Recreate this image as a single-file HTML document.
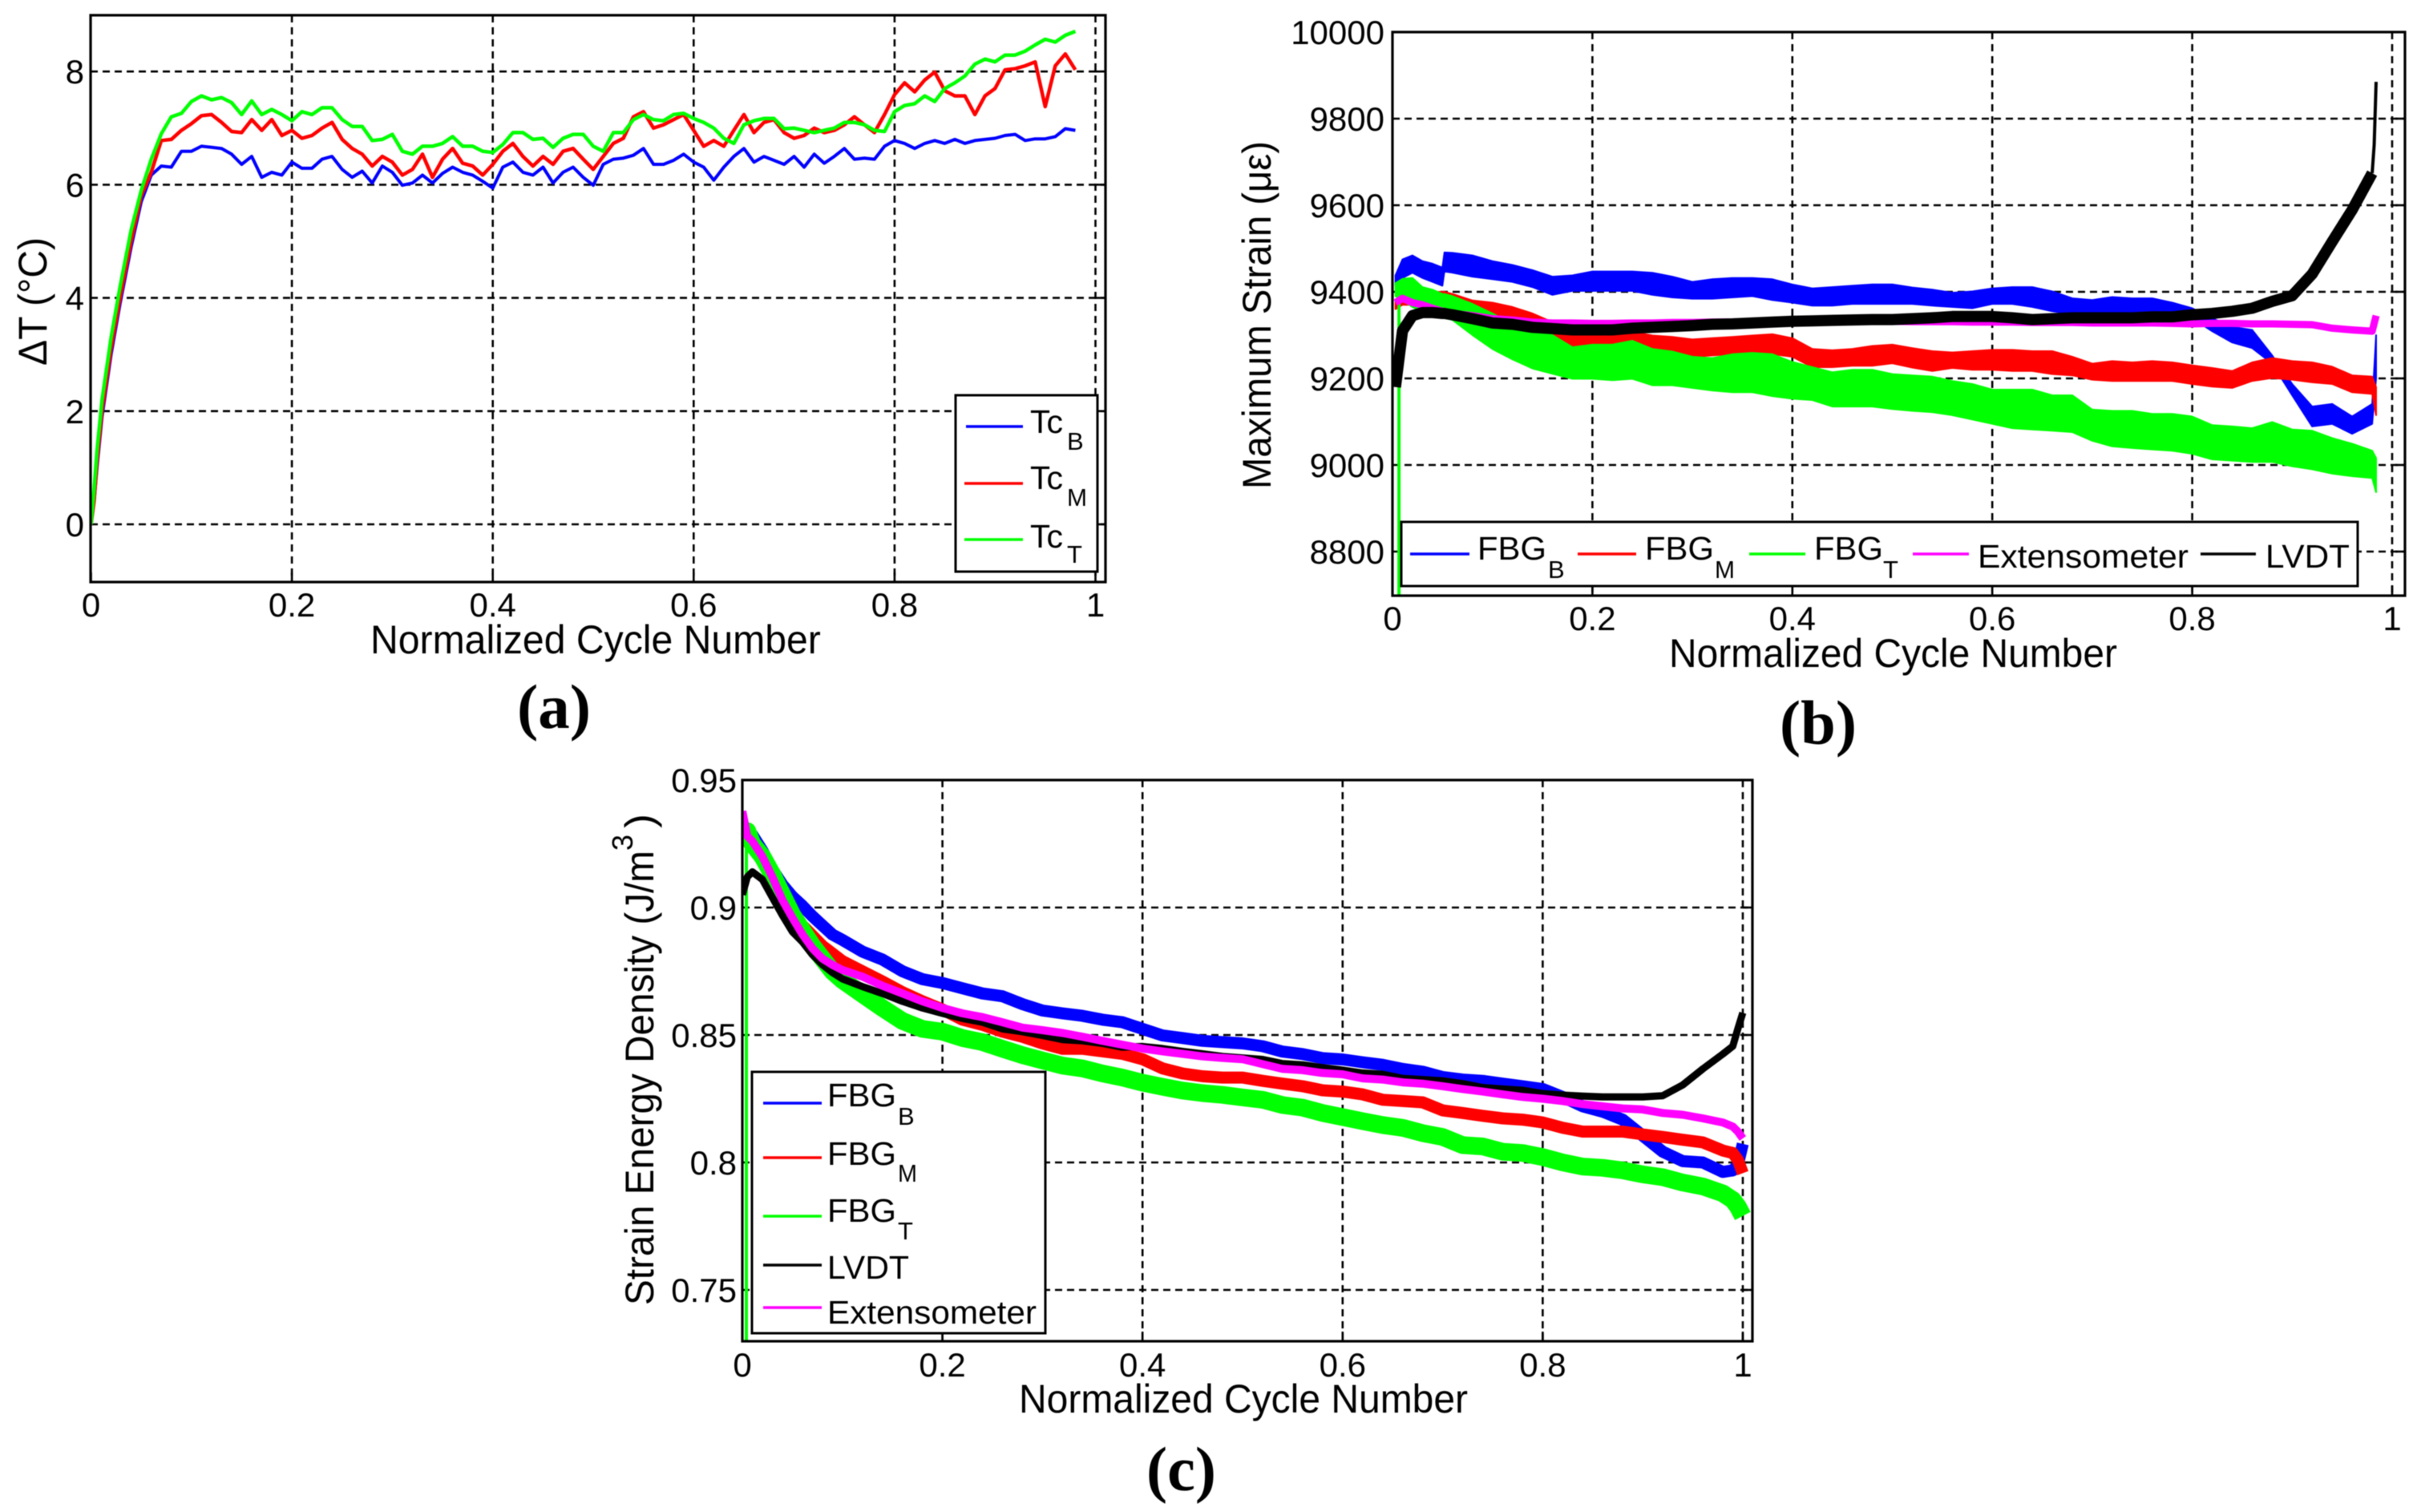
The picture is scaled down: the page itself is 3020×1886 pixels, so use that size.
<!DOCTYPE html>
<html lang="en">
<head>
<meta charset="utf-8">
<title>Thermal, strain and strain energy versus normalized cycle number</title>
<style>
html,body{margin:0;padding:0;background:#fff;}
svg{display:block;filter:blur(0.6px);}
text{font-family:"Liberation Sans",sans-serif;fill:#000;}
.cap{font-family:"Liberation Serif",serif;font-weight:bold;font-size:78px;}
.leg{font-size:41px;}
.sub{font-size:31px;}
.axl{font-size:50px;}
</style>
</head>
<body>
<svg xmlns="http://www.w3.org/2000/svg" width="3020" height="1886" viewBox="0 0 3020 1886">
<defs>
<clipPath id="clip-a"><rect x="113" y="19" width="1266" height="707"/></clipPath>
<clipPath id="clip-b"><rect x="1737" y="40" width="1263" height="703"/></clipPath>
<clipPath id="clip-c"><rect x="926" y="973" width="1260" height="700"/></clipPath>
</defs>

<g id="panel-a"></g>
<g id="panel-b"></g>
<g id="panel-c"></g>

<!-- Panel a labels and legend -->
<text class="axl" transform="translate(462,815) scale(0.963,1)">Normalized Cycle Number</text>
<text class="axl" transform="translate(58,456) rotate(-90)" textLength="160" lengthAdjust="spacingAndGlyphs">ΔT (°C)</text>
<g>
<rect x="1192" y="493" width="177" height="220" fill="#fff" stroke="#000" stroke-width="3"/>
<line x1="1205" x2="1276" y1="532" y2="532" stroke="#0000ff" stroke-width="3.5"/>
<text class="leg" x="1285" y="540">Tc</text><text class="sub" x="1331" y="561">B</text>
<line x1="1203" x2="1276" y1="603" y2="603" stroke="#ff0000" stroke-width="3.5"/>
<text class="leg" x="1285" y="610">Tc</text><text class="sub" x="1331" y="631" textLength="25" lengthAdjust="spacingAndGlyphs">M</text>
<line x1="1203" x2="1276" y1="673" y2="673" stroke="#00ff00" stroke-width="3.5"/>
<text class="leg" x="1285" y="683">Tc</text><text class="sub" x="1331" y="702">T</text>
</g>
<text class="cap" x="645" y="908" textLength="92" lengthAdjust="spacingAndGlyphs">(a)</text>

<!-- Panel b labels and legend -->
<text class="axl" transform="translate(2082,832) scale(0.958,1)">Normalized Cycle Number</text>
<text class="axl" transform="translate(1585,610) rotate(-90)" textLength="434" lengthAdjust="spacingAndGlyphs">Maximum Strain (με)</text>
<g>
<rect x="1748" y="651" width="1193" height="80" fill="#fff" stroke="#000" stroke-width="3"/>
<line x1="1759" x2="1833" y1="691" y2="691" stroke="#0000ff" stroke-width="3.5"/>
<text class="leg" x="1843" y="698" textLength="86" lengthAdjust="spacingAndGlyphs">FBG</text><text class="sub" x="1931" y="721">B</text>
<line x1="1968" x2="2041" y1="691" y2="691" stroke="#ff0000" stroke-width="3.5"/>
<text class="leg" x="2052" y="698" textLength="86" lengthAdjust="spacingAndGlyphs">FBG</text><text class="sub" x="2139" y="721" textLength="25" lengthAdjust="spacingAndGlyphs">M</text>
<line x1="2182" x2="2252" y1="691" y2="691" stroke="#00ff00" stroke-width="3.5"/>
<text class="leg" x="2263" y="698" textLength="86" lengthAdjust="spacingAndGlyphs">FBG</text><text class="sub" x="2349" y="721">T</text>
<line x1="2386" x2="2456" y1="691" y2="691" stroke="#ff00ff" stroke-width="3.5"/>
<text class="leg" x="2467" y="708" textLength="263" lengthAdjust="spacingAndGlyphs">Extensometer</text>
<line x1="2745" x2="2814" y1="691" y2="691" stroke="#000" stroke-width="3.5"/>
<text class="leg" x="2826" y="708" textLength="105" lengthAdjust="spacingAndGlyphs">LVDT</text>
</g>
<text class="cap" x="2220" y="928" textLength="96" lengthAdjust="spacingAndGlyphs">(b)</text>

<!-- Panel c labels and legend -->
<text class="axl" transform="translate(1271,1762) scale(0.96,1)">Normalized Cycle Number</text>
<g>
<text class="axl" transform="translate(815,1628) rotate(-90)" textLength="567" lengthAdjust="spacingAndGlyphs">Strain Energy Density (J/m</text>
<text transform="translate(789,1061) rotate(-90)" font-size="36">3</text>
<text class="axl" transform="translate(815,1033) rotate(-90)" textLength="18" lengthAdjust="spacingAndGlyphs">)</text>
</g>
<g>
<rect x="938" y="1337" width="366" height="326" fill="#fff" stroke="#000" stroke-width="3"/>
<line x1="952" x2="1025" y1="1376" y2="1376" stroke="#0000ff" stroke-width="3.5"/>
<text class="leg" x="1032" y="1380" textLength="86" lengthAdjust="spacingAndGlyphs">FBG</text><text class="sub" x="1120" y="1403">B</text>
<line x1="952" x2="1025" y1="1444" y2="1444" stroke="#ff0000" stroke-width="3.5"/>
<text class="leg" x="1032" y="1453" textLength="86" lengthAdjust="spacingAndGlyphs">FBG</text><text class="sub" x="1120" y="1474" textLength="24" lengthAdjust="spacingAndGlyphs">M</text>
<line x1="952" x2="1025" y1="1517" y2="1517" stroke="#00ff00" stroke-width="3.5"/>
<text class="leg" x="1032" y="1524" textLength="86" lengthAdjust="spacingAndGlyphs">FBG</text><text class="sub" x="1120" y="1546">T</text>
<line x1="952" x2="1025" y1="1578" y2="1578" stroke="#000" stroke-width="3.5"/>
<text class="leg" x="1032" y="1595" textLength="102" lengthAdjust="spacingAndGlyphs">LVDT</text>
<line x1="952" x2="1025" y1="1631" y2="1631" stroke="#ff00ff" stroke-width="3.5"/>
<text class="leg" x="1032" y="1651" textLength="261" lengthAdjust="spacingAndGlyphs">Extensometer</text>
</g>
<text class="cap" x="1430" y="1859" textLength="87" lengthAdjust="spacingAndGlyphs">(c)</text>
</svg>

<script>
// ---------- Shared tick data ----------
const xTickValues = [0, 0.2, 0.4, 0.6, 0.8, 1];
const xTickLabels = ['0', '0.2', '0.4', '0.6', '0.8', '1'];

// ---------- Panel a: temperature rise ----------
const yTicksA = [0, 2, 4, 6, 8];
const yTickLabelsA = ['0', '2', '4', '6', '8'];
const cyclesA = [0,.003,.006,.011,.02,.029,.04,
 .05,.06,.07,.08,.09,
 .10,.11,.12,.13,.14,.15,.16,.17,.18,.19,
 .20,.21,.22,.23,.24,.25,.26,.27,.28,.29,
 .30,.31,.32,.33,.34,.35,.36,.37,.38,.39,
 .40,.41,.42,.43,.44,.45,.46,.47,.48,.49,
 .50,.51,.52,.53,.54,.55,.56,.57,.58,.59,
 .60,.61,.62,.63,.64,.65,.66,.67,.68,.69,
 .70,.71,.72,.73,.74,.75,.76,.77,.78,.79,
 .80,.81,.82,.83,.84,.85,.86,.87,.88,.89,
 .90,.91,.92,.93,.94,.95,.96,.97,.98];
const tcB = [0,.4,1,1.9,3,3.9,4.9,
 5.7,6.17,6.33,6.31,6.59,
 6.59,6.68,6.66,6.64,6.54,6.36,6.5,6.13,6.22,6.17,
 6.4,6.29,6.29,6.45,6.5,6.27,6.13,6.24,6.03,6.33,
 6.22,5.99,6.03,6.17,6.03,6.2,6.31,6.22,6.17,6.06,
 5.94,6.31,6.4,6.22,6.17,6.31,6.03,6.22,6.31,6.13,
 5.99,6.36,6.45,6.47,6.52,6.64,6.36,6.36,6.43,6.54,
 6.4,6.31,6.08,6.31,6.5,6.64,6.4,6.5,6.43,6.36,
 6.5,6.31,6.54,6.38,6.5,6.64,6.45,6.47,6.45,6.68,
 6.78,6.73,6.64,6.73,6.78,6.73,6.8,6.73,6.78,6.8,
 6.82,6.87,6.89,6.78,6.81,6.81,6.85,6.99,6.96];
const tcM = [0,.4,1.1,2,3.1,4,5,
 5.8,6.22,6.78,6.8,6.96,
 7.08,7.22,7.24,7.1,6.94,6.92,7.15,6.96,7.15,6.87,
 6.96,6.82,6.87,7.0,7.1,6.8,6.64,6.54,6.33,6.5,
 6.4,6.17,6.27,6.54,6.13,6.45,6.64,6.38,6.33,6.17,
 6.36,6.59,6.73,6.5,6.33,6.5,6.36,6.59,6.64,6.45,
 6.27,6.5,6.73,6.82,7.2,7.29,7.0,7.06,7.15,7.24,
 6.96,6.68,6.78,6.68,6.96,7.24,6.92,7.1,7.15,6.92,
 6.82,6.87,7.0,6.92,6.96,7.06,7.2,7.06,6.92,7.24,
 7.59,7.8,7.64,7.85,7.99,7.66,7.57,7.57,7.24,7.57,
 7.7,8.03,8.05,8.1,8.17,7.38,8.1,8.31,8.03];
const tcT = [0,.6,1.3,2.2,3.3,4.2,5.2,
 5.9,6.45,6.9,7.2,7.26,
 7.47,7.57,7.5,7.54,7.45,7.24,7.48,7.24,7.33,7.24,
 7.13,7.29,7.24,7.36,7.36,7.15,7.03,7.03,6.78,6.8,
 6.89,6.59,6.54,6.68,6.68,6.73,6.85,6.68,6.68,6.59,
 6.57,6.71,6.92,6.92,6.8,6.82,6.66,6.82,6.89,6.89,
 6.68,6.59,6.92,6.92,7.15,7.24,7.15,7.13,7.24,7.26,
 7.17,7.1,7.0,6.82,6.73,7.06,7.13,7.17,7.17,6.99,
 7.0,6.96,6.92,6.96,7.0,7.1,7.1,7.06,6.96,6.94,
 7.29,7.4,7.43,7.57,7.47,7.7,7.8,7.92,8.13,8.22,
 8.17,8.29,8.29,8.36,8.47,8.57,8.52,8.64,8.71];

// ---------- Panel b: maximum strain ----------
const yTicksB = [8800, 9000, 9200, 9400, 9600, 9800, 10000];
const yTickLabelsB = ['8800', '9000', '9200', '9400', '9600', '9800', '10000'];
const cyclesB = [.003,.01,.02,.03,.04,.05,.052,.06,
 .08,.10,.12,.14,.16,.18,.20,.22,.24,.26,.28,.30,.32,.34,.36,.38,.40,.42,.44,.46,.48,.50,
 .52,.54,.56,.58,.60,.62,.64,.66,.68,.70,.72,.74,.76,.78,.80,.82,.84,.86,.88,.90,.92,.94,.96,.98,.984];
const fbgBHighB = [9438,9475,9484,9471,9465,9456,9491,9490,
 9484,9471,9462,9450,9435,9438,9447,9447,9447,9444,9435,9423,9429,9432,9432,9429,9417,9408,9411,9414,9417,9417,
 9410,9405,9398,9401,9408,9411,9411,9401,9385,9381,9388,9385,9385,9375,9362,9339,9319,9312,9253,9187,9135,9141,9112,9141,9300];
const fbgBLowB = [9414,9432,9444,9432,9423,9414,9447,9444,
 9435,9429,9423,9411,9393,9402,9402,9402,9402,9393,9387,9384,9384,9387,9390,9381,9375,9368,9368,9372,9372,9372,
 9372,9368,9365,9362,9372,9372,9365,9355,9349,9349,9349,9349,9349,9345,9339,9309,9283,9270,9234,9161,9089,9095,9072,9095,9200];
const fbgMHighB = [9380,9400,9405,9405,9400,9400,9400,9395,
 9380,9375,9365,9350,9330,9320,9320,9320,9308,9299,9296,9290,9293,9296,9299,9302,9293,9268,9265,9268,9275,9278,
 9270,9263,9260,9263,9266,9266,9263,9263,9250,9234,9240,9237,9240,9237,9230,9224,9217,9237,9247,9240,9237,9227,9207,9204,9180];
const fbgMLowB = [9360,9370,9370,9372,9370,9365,9365,9360,
 9340,9330,9320,9305,9285,9275,9268,9275,9280,9268,9259,9250,9253,9256,9259,9256,9250,9226,9226,9229,9229,9235,
 9225,9217,9224,9220,9220,9217,9217,9210,9207,9197,9194,9194,9194,9194,9187,9181,9178,9194,9201,9197,9191,9187,9168,9164,9115];
const fbgTHighB = [9420,9430,9432,9411,9405,9395,9395,9390,
 9372,9350,9325,9315,9300,9272,9278,9278,9287,9268,9262,9250,9247,9256,9259,9256,9238,9226,9214,9220,9220,9210,
 9207,9204,9194,9187,9174,9174,9174,9161,9161,9128,9125,9125,9118,9118,9112,9092,9089,9085,9099,9082,9079,9062,9049,9033,9016];
const fbgTLowB = [9390,9380,9365,9355,9345,9340,9340,9335,
 9300,9268,9244,9223,9211,9199,9199,9196,9199,9184,9184,9178,9172,9168,9168,9159,9153,9150,9135,9135,9135,9129,
 9125,9122,9115,9105,9095,9085,9082,9079,9076,9056,9043,9039,9036,9033,9026,9013,9010,9007,9007,8997,8990,8980,8974,8970,8937];
const extensometerB = [9375,9385,9375,9370,9362,9355,9355,9350,
 9345,9338,9335,9330,9328,9328,9327,9327,9328,9328,9329,9329,9330,9330,9330,9331,9331,9332,9332,9332,9332,9332,
 9331,9331,9331,9330,9330,9330,9329,9329,9329,9328,9328,9328,9328,9327,9326,9327,9327,9326,9326,9325,9324,9316,9312,9309,9345];
const lvdtB = [9180,9310,9345,9352,9352,9350,9350,9347,
 9338,9328,9325,9318,9315,9312,9312,9312,9316,9318,9320,9322,9325,9326,9328,9330,9332,9333,9334,9335,9336,9336,
 9338,9340,9343,9343,9343,9340,9336,9338,9340,9340,9340,9340,9342,9342,9347,9350,9355,9362,9378,9391,9441,9516,9589,9674];
const lvdtTailCyclesB = [.98,.982,.984];
const lvdtTailB = [9674,9740,9885];
const fbgTStartCyclesB = [.0065,.0065];
const fbgTStartB = [8700,9400];

// ---------- Panel c: strain energy density ----------
const yTicksC = [0.75, 0.8, 0.85, 0.9, 0.95];
const yTickLabelsC = ['0.75', '0.8', '0.85', '0.9', '0.95'];
const cyclesC = [0,.005,.01,.02,.03,.04,.05,.06,.07,.08,.09,.10,
 .12,.14,.16,.18,.20,.22,.24,.26,.28,.30,.32,.34,.36,.38,.40,.42,.44,.46,.48,.50,
 .52,.54,.56,.58,.60,.62,.64,.66,.68,.70,.72,.74,.76,.78,.80,.82,.84,.86,.88,.90,.92,.94,.96,.98,.99,.995,1];
const fbgBC = [.9254,.929,.9285,.9223,.915,.909,.9043,.9007,.8966,.893,.8894,.8873,
 .8827,.8796,.875,.8719,.8704,.8683,.8663,.8652,.8621,.8596,.8585,.8575,.856,.855,.8524,.8498,.8488,.8477,.8472,.8467,
 .8456,.8435,.8425,.8409,.8404,.8393,.8383,.8367,.8356,.8335,.8325,.832,.8309,.8299,.8288,.8257,.822,.8199,.8168,.8105,.8042,.8005,.8,.7963,.7969,.799,.8073];
const fbgMC = [.925,.926,.924,.918,.911,.905,.899,.893,.889,.885,.882,.879,
 .875,.871,.8668,.8632,.86,.856,.854,.8513,.8493,.8467,.8446,.8446,.8436,.8426,.8405,.8369,.8349,.8338,.8333,.8333,
 .832,.8309,.8299,.8283,.8278,.8267,.8246,.8241,.8236,.8204,.8194,.8183,.8173,.8168,.8157,.8136,.8121,.8121,.8121,.811,.81,.8089,.8079,.8047,.8037,.801,.7958];
const fbgTC = [.925,.93,.925,.92,.913,.905,.897,.891,.885,.88,.875,.8715,
 .866,.8606,.8555,.8524,.8513,.8488,.8472,.8446,.8421,.84,.838,.8369,.8349,.8333,.8313,.8297,.8282,.8272,.8265,.8255,
 .8246,.8225,.8215,.8194,.8178,.8162,.8147,.8136,.8115,.81,.8068,.8063,.8042,.8037,.8021,.8,.7984,.7979,.7969,.7953,.7942,.7921,.7906,.7879,.7853,.7827,.779];
const lvdtC = [.905,.912,.914,.911,.904,.897,.8905,.8865,.8815,.8776,.8745,.872,
 .869,.8663,.8632,.8606,.8585,.8565,.855,.8524,.8513,.8498,.8482,.8477,.8467,.8452,.8455,.8447,.8436,.8426,.8416,.841,
 .8404,.8388,.8383,.8372,.8362,.8351,.8346,.833,.8325,.832,.8309,.8294,.8288,.8283,.827,.8264,.826,.8257,.8257,.8257,.8262,.8304,.8367,.8425,.8456,.8524,.8587];
const extensometerC = [.9378,.928,.926,.92,.912,.903,.896,.8895,.884,.88,.8775,.8755,
 .8729,.8693,.8663,.8632,.8606,.8585,.857,.855,.8529,.8519,.8508,.8493,.8477,.8462,.8447,.8436,.8426,.8416,.841,.8405,
 .8386,.8367,.8362,.8351,.8346,.833,.8325,.8314,.8309,.8299,.8288,.8278,.8267,.8257,.825,.8241,.8229,.822,.8212,.8208,.8194,.8187,.8173,.8157,.8141,.8121,.8094];
const fbgTStartCyclesC = [.004,.004];
const fbgTStartC = [.73,.93];

// ---------- Drawing ----------
const NS = 'http://www.w3.org/2000/svg';
const BLUE = '#0000ff', RED = '#ff0000', GREEN = '#00ff00', MAGENTA = '#ff00ff', BLACK = '#000000';

function make(tag, parent, attrs) {
  const node = document.createElementNS(NS, tag);
  for (const k in attrs) node.setAttribute(k, attrs[k]);
  parent.appendChild(node);
  return node;
}

// Axis functions: one x and one y mapping for each panel
const xA = v => 113.5 + v * 1253;
const yA = v => 654 - v * 70.6;
const xB = v => 1737 + v * 1247;
const yB = v => 40 + (10000 - v) * 0.54;
const xC = v => 926 + v * 1248;
const yC = v => 973 + (0.95 - v) * 3180;

function toPoints(xs, ys, fx, fy) {
  return ys.map((v, i) => fx(xs[i]).toFixed(1) + ',' + fy(v).toFixed(1)).join(' ');
}

function drawLine(parent, name, xs, ys, fx, fy, color, width) {
  const line = make('polyline', parent, {points: toPoints(xs, ys, fx, fy), fill: 'none', stroke: color, 'stroke-width': width, 'stroke-linejoin': 'round'});
  
  
}

function drawBand(parent, name, xs, hi, lo, fx, fy, color) {
  const upper = toPoints(xs, hi, fx, fy);
  const lower = hi.map((_, i) => fx(xs[i]).toFixed(1) + ',' + fy(lo[i]).toFixed(1)).reverse().join(' ');
  const band = make('polygon', parent, {points: upper + ' ' + lower, fill: color, stroke: color, 'stroke-width': 2, 'stroke-linejoin': 'round'});
  
  
}

function drawAxes(panelNode, box, fx, fy, yVals, yLabels, opts) {
  const grid = make('g', panelNode, {});
  
  
  xTickValues.forEach((v, i) => {
    if (v > 0) {
      const g = make('line', grid, {x1: fx(v), x2: fx(v), y1: box.top, y2: box.bottom, stroke: '#000', 'stroke-width': 2.6, 'stroke-dasharray': '9 6'});
      
      
    }
    const t = make('text', panelNode, {x: fx(v), y: opts.xLabelY, 'text-anchor': 'middle', 'font-size': 42});
    t.textContent = xTickLabels[i];
    
    
    const m = make('line', panelNode, {x1: fx(v), x2: fx(v), y1: box.bottom, y2: box.bottom - 12, stroke: '#000', 'stroke-width': 2.6});
    
    
  });
  yVals.forEach((v, i) => {
    const y = fy(v);
    if (y > box.top + 2) {
      const g = make('line', grid, {x1: box.left, x2: box.right, y1: y, y2: y, stroke: '#000', 'stroke-width': 2.6, 'stroke-dasharray': '9 6'});
      
      
    }
    const t = make('text', panelNode, {x: opts.yLabelX, y: y + 15, 'text-anchor': 'end', 'font-size': opts.yFont});
    t.textContent = yLabels[i];
    
    
    const right = make('line', panelNode, {x1: box.right, x2: box.right - 12, y1: y, y2: y, stroke: '#000', 'stroke-width': 2.6});
    
    
  });
}

function drawFrame(panelNode, box) {
  const f = make('rect', panelNode, {x: box.left, y: box.top, width: box.right - box.left, height: box.bottom - box.top, fill: 'none', stroke: '#000', 'stroke-width': 3.2});
  
  
}

// Panel a
(function () {
  const p = document.getElementById('panel-a');
  const box = {left: 113, right: 1379, top: 19, bottom: 726};
  drawAxes(p, box, xA, yA, yTicksA, yTickLabelsA, {xLabelY: 769, yLabelX: 105, yFont: 42});
  const d = make('g', p, {'clip-path': 'url(#clip-a)'});
  
  
  drawLine(d, 'series-tc-b', cyclesA, tcB, xA, yA, BLUE, 4);
  drawLine(d, 'series-tc-m', cyclesA, tcM, xA, yA, RED, 4.5);
  drawLine(d, 'series-tc-t', cyclesA, tcT, xA, yA, GREEN, 4.5);
  drawFrame(p, box);
})();

// Panel b
(function () {
  const p = document.getElementById('panel-b');
  const box = {left: 1737, right: 3000, top: 40, bottom: 743};
  drawAxes(p, box, xB, yB, yTicksB, yTickLabelsB, {xLabelY: 786, yLabelX: 1727, yFont: 42});
  const d = make('g', p, {'clip-path': 'url(#clip-b)'});
  
  
  drawBand(d, 'series-fbg-b', cyclesB, fbgBHighB, fbgBLowB, xB, yB, BLUE);
  drawBand(d, 'series-fbg-m', cyclesB, fbgMHighB, fbgMLowB, xB, yB, RED);
  drawLine(d, 'series-fbg-t-start', fbgTStartCyclesB, fbgTStartB, xB, yB, GREEN, 4);
  drawBand(d, 'series-fbg-t', cyclesB, fbgTHighB, fbgTLowB, xB, yB, GREEN);
  drawLine(d, 'series-extensometer', cyclesB, extensometerB, xB, yB, MAGENTA, 9);
  drawLine(d, 'series-lvdt', cyclesB, lvdtB, xB, yB, BLACK, 14);
  drawLine(d, 'series-lvdt-tail', lvdtTailCyclesB, lvdtTailB, xB, yB, BLACK, 4);
  drawFrame(p, box);
})();

// Panel c
(function () {
  const p = document.getElementById('panel-c');
  const box = {left: 926, right: 2186, top: 973, bottom: 1673};
  drawAxes(p, box, xC, yC, yTicksC, yTickLabelsC, {xLabelY: 1717, yLabelX: 919, yFont: 42});
  const d = make('g', p, {'clip-path': 'url(#clip-c)'});
  
  
  drawLine(d, 'series-fbg-b', cyclesC, fbgBC, xC, yC, BLUE, 15);
  drawLine(d, 'series-fbg-m', cyclesC, fbgMC, xC, yC, RED, 15);
  drawLine(d, 'series-fbg-t-start', fbgTStartCyclesC, fbgTStartC, xC, yC, GREEN, 4);
  drawLine(d, 'series-fbg-t', cyclesC, fbgTC, xC, yC, GREEN, 22);
  drawLine(d, 'series-lvdt', cyclesC, lvdtC, xC, yC, BLACK, 9);
  drawLine(d, 'series-extensometer', cyclesC, extensometerC, xC, yC, MAGENTA, 10);
  drawFrame(p, box);
})();
</script>
</body>
</html>
